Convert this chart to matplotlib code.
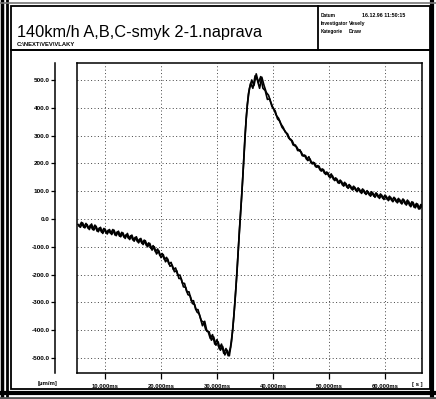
import numpy as np
import matplotlib
matplotlib.use('Agg')
import matplotlib.pyplot as plt
from matplotlib.patches import Rectangle
from matplotlib.lines import Line2D

# trace A (time [s], strain [um/m])
t_a = [5.2, 5.6, 6.0, 6.4, 6.8, 7.2, 7.6, 8.0, 8.4, 8.8, 9.2, 9.6, 10.0, 10.4, 10.8,
       11.2, 11.6, 12.0, 12.4, 12.8, 13.2, 13.6, 14.0, 14.4, 14.8, 15.2, 15.6, 16.0,
       16.4, 16.8, 17.2, 17.6, 18.0, 18.4, 18.8, 19.2, 19.6, 20.0, 20.4, 20.8, 21.2,
       21.6, 22.0, 22.4, 22.8, 23.2, 23.6, 24.0, 24.4, 24.8, 25.2, 25.6, 26.0, 26.4,
       26.8, 27.2, 27.6, 28.0, 28.4, 28.8, 29.2, 29.6, 30.0, 30.4, 30.8, 31.2, 31.6,
       32.0, 32.4, 32.8, 33.2, 33.6, 34.0, 34.4, 34.8, 35.2, 35.6, 36.0, 36.4, 36.8,
       37.2, 37.6, 38.0, 38.4, 38.8, 39.2, 39.6, 40.0, 40.4, 40.8, 41.2, 41.6, 42.0,
       42.4, 42.8, 43.2, 43.6, 44.0, 44.4, 44.8, 45.2, 45.6, 46.0, 46.4, 46.8, 47.2,
       47.6, 48.0, 48.4, 48.8, 49.2, 49.6, 50.0, 50.4, 50.8, 51.2, 51.6, 52.0, 52.4,
       52.8, 53.2, 53.6, 54.0, 54.4, 54.8, 55.2, 55.6, 56.0, 56.4, 56.8, 57.2, 57.6,
       58.0, 58.4, 58.8, 59.2, 59.6, 60.0, 60.4, 60.8, 61.2, 61.6, 62.0, 62.4, 62.8,
       63.2, 63.6, 64.0, 64.4, 64.8, 65.2, 65.6, 66.0, 66.4, 66.6]
v_a = [-20, -30, -14, -32, -20, -38, -18, -40, -26, -46, -30, -52, -36, -54, -38,
       -56, -40, -60, -44, -64, -50, -70, -52, -74, -58, -80, -64, -86,
       -70, -92, -78, -100, -88, -112, -100, -126, -114, -139, -128, -154, -144,
       -170, -166, -190, -186, -214, -214, -244, -246, -272, -276, -304, -308, -334,
       -341, -366, -371, -399, -404, -430, -416, -450, -434, -467, -450, -483, -466,
       -492, -462, -400, -300, -180, -40, 80, 220, 360, 450, 488, 470, 515,
       500, 470, 510, 480, 455, 445, 420, 400, 388, 360, 352, 330, 320,
       309, 291, 286, 266, 266, 246, 249, 228, 230, 214, 224, 201, 204,
       188, 192, 176, 180, 164, 169, 152, 162, 142, 148, 130, 140, 122,
       132, 114, 124, 108, 118, 102, 112, 96, 108, 92, 102, 86, 98,
       82, 94, 78, 90, 74, 86, 70, 82, 66, 78, 62, 74, 58,
       72, 54, 68, 48, 62, 42, 56, 36, 52, 44]

# trace B
t_b = [5.4, 5.8, 6.2, 6.6, 7.0, 7.4, 7.8, 8.2, 8.6, 9.0, 9.4, 9.8, 10.2, 10.6, 11.0,
       11.4, 11.8, 12.2, 12.6, 13.0, 13.4, 13.8, 14.2, 14.6, 15.0, 15.4, 15.8, 16.2,
       16.6, 17.0, 17.4, 17.8, 18.2, 18.6, 19.0, 19.4, 19.8, 20.2, 20.6, 21.0, 21.4,
       21.8, 22.2, 22.6, 23.0, 23.4, 23.8, 24.2, 24.6, 25.0, 25.4, 25.8, 26.2, 26.6,
       27.0, 27.4, 27.8, 28.2, 28.6, 29.0, 29.4, 29.8, 30.2, 30.6, 31.0, 31.4, 31.8,
       32.2, 32.6, 33.0, 33.4, 33.8, 34.2, 34.6, 35.0, 35.4, 35.8, 36.2, 36.6, 37.0,
       37.4, 37.8, 38.2, 38.6, 39.0, 39.4, 39.8, 40.2, 40.6, 41.0, 41.4, 41.8, 42.2,
       42.6, 43.0, 43.4, 43.8, 44.2, 44.6, 45.0, 45.4, 45.8, 46.2, 46.6, 47.0, 47.4,
       47.8, 48.2, 48.6, 49.0, 49.4, 49.8, 50.2, 50.6, 51.0, 51.4, 51.8, 52.2, 52.6,
       53.0, 53.4, 53.8, 54.2, 54.6, 55.0, 55.4, 55.8, 56.2, 56.6, 57.0, 57.4, 57.8,
       58.2, 58.6, 59.0, 59.4, 59.8, 60.2, 60.6, 61.0, 61.4, 61.8, 62.2, 62.6, 63.0,
       63.4, 63.8, 64.2, 64.6, 65.0, 65.4, 65.8, 66.2, 66.6]
v_b = [-26, -12, -30, -16, -34, -22, -38, -22, -44, -32, -48, -34, -50, -40, -52,
       -38, -58, -46, -62, -48, -66, -56, -70, -60, -76, -66, -82, -72,
       -88, -76, -96, -86, -106, -96, -118, -108, -132, -124, -146, -138, -162,
       -156, -182, -176, -202, -202, -230, -232, -262, -262, -294, -294, -326, -326,
       -354, -384, -368, -404, -406, -436, -424, -454, -442, -472, -458, -489, -472,
       -492, -440, -350, -240, -110, 20, 150, 300, 410, 470, 500, 480, 522,
       490, 512, 470, 462, 430, 432, 405, 392, 372, 362, 342, 330, 312,
       306, 286, 282, 264, 260, 246, 242, 226, 228, 210, 216, 198, 202,
       186, 190, 172, 178, 160, 166, 148, 156, 138, 144, 128, 136, 118,
       128, 110, 120, 104, 114, 98, 108, 92, 104, 88, 98, 82, 94,
       78, 90, 74, 86, 70, 82, 66, 78, 62, 74, 58, 70, 54,
       68, 50, 64, 44, 60, 40, 54, 36, 50]

y_ticks = [-500, -400, -300, -200, -100, 0, 100, 200, 300, 400, 500]
y_labels = ['-500.0', '-400.0', '-300.0', '-200.0', '-100.0', '0.0',
            '100.0', '200.0', '300.0', '400.0', '500.0']
x_ticks = [10, 20, 30, 40, 50, 60]
x_labels = ['10.000ms', '20.000ms', '30.000ms', '40.000ms', '50.000ms', '60.000ms']

title = '140km/h A,B,C-smyk 2-1.naprava'
path = 'C:\\NEXT\\VEV\\VLAKY'

W, H = 436, 399
plt.rcParams['font.family'] = ['Liberation Sans', 'DejaVu Sans']
fig = plt.figure(figsize=(W / 100, H / 100), dpi=100)


def fx(x):
    return x / W


def fy(y):
    return 1 - y / H


def box(x0, y0, x1, y1, lw=1.2, color='k'):
    fig.add_artist(Rectangle((fx(x0), fy(y1)), fx(x1) - fx(x0), fy(y0) - fy(y1),
                             transform=fig.transFigure, fill=False, lw=lw, ec=color))


def hline(x0, x1, y, lw=1.0, color='k'):
    fig.add_artist(Line2D([fx(x0), fx(x1)], [fy(y), fy(y)], transform=fig.transFigure,
                          lw=lw, color=color))


def vline(x, y0, y1, lw=1.0, color='k'):
    fig.add_artist(Line2D([fx(x), fx(x)], [fy(y0), fy(y1)], transform=fig.transFigure,
                          lw=lw, color=color))


# scanned page frame
vline(2, 0, 399, lw=2.5)
vline(7, 0, 399, lw=2.0)
vline(432, 0, 399, lw=3.0)
hline(0, 436, 3, lw=1.2, color='#777777')
hline(0, 436, 393, lw=3.0)
hline(0, 436, 398, lw=2.0, color='#555555')
box(11, 6, 430, 50, lw=1.3)
box(11, 50, 430, 389, lw=1.3)
vline(318, 6, 50, lw=1.3)

fig.text(fx(17), fy(37), title, fontsize=11.8, va='baseline', ha='left')
fig.text(fx(17), fy(46), path, fontsize=4.2, fontweight='bold', va='baseline')
info = [('Datum', '16.12.96 11:50:15'), ('Investigator', 'Vesely'), ('Kategorie', 'Draw')]
for i, (k, v) in enumerate(info):
    fig.text(fx(321), fy(17 + 8 * i), k, fontsize=3.4, fontweight='bold', va='baseline')
    fig.text(fx(362 if i == 0 else 349), fy(17 + 8 * i), v, fontsize=3.8,
             fontweight='bold', va='baseline')

# plot area
ax = fig.add_axes([fx(77), fy(373), fx(422) - fx(77), fy(63) - fy(373)])
ax.plot(t_a, v_a, color='k', lw=1.2)
ax.plot(t_b, v_b, color='k', lw=1.2)
ax.set_xlim(5.0, 66.6)
ax.set_ylim(-554, 561)

ax.grid(True, color='#444444', linestyle=(0, (1, 2.5)), linewidth=0.7)
ax.spines['left'].set_position(('outward', 22 * 0.72))
for s in ['top', 'right', 'bottom', 'left']:
    ax.spines[s].set_linewidth(1.1)
ax.axvline(5.0, color='k', lw=1.1, clip_on=False)

ax.set_yticks(y_ticks)
ax.set_yticklabels(y_labels, fontsize=4.6, fontweight='bold')
ax.set_xticks(x_ticks)
ax.set_xticklabels(x_labels, fontsize=4.2, fontweight='bold')
ax.tick_params(axis='y', direction='out', length=3, width=0.9, pad=1)
ax.tick_params(axis='x', direction='out', length=4, width=0.9, pad=4)

fig.text(fx(38), fy(385), '[\u00b5m/m]', fontsize=4.3, fontweight='bold', va='baseline')
fig.text(fx(412), fy(386), '[ s ]', fontsize=4.3, fontweight='bold', va='baseline')

fig.savefig('out.png', dpi=100)
